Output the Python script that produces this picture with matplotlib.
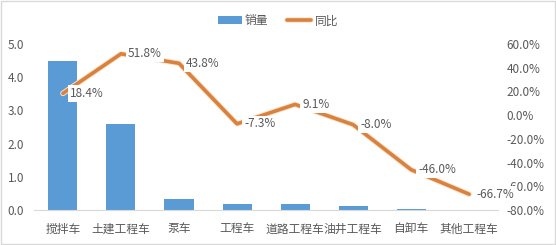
import matplotlib.pyplot as plt
import matplotlib.patheffects as pe
from matplotlib.ticker import FuncFormatter
import numpy as np

plt.rcParams['font.family'] = ['Noto Sans CJK SC', 'DejaVu Sans']

categories = ['搅拌车', '土建工程车', '泵车', '工程车', '道路工程车', '油井工程车', '自卸车', '其他工程车']
sales = [4.5, 2.6, 0.33, 0.18, 0.18, 0.13, 0.03, 0.01]
yoy = [18.4, 51.8, 43.8, -7.3, 9.1, -8.0, -46.0, -66.7]

bar_color = '#5B9BD5'
line_color = '#D9823F'
text_color = '#595959'
fs = 8.5

fig = plt.figure(figsize=(5.56, 2.45), dpi=100)
ax = fig.add_axes([0.061, 0.143, 0.835, 0.677])
ax2 = ax.twinx()

x = np.arange(len(categories))
bars = ax.bar(x, sales, width=0.5, color=bar_color, label='销量', zorder=2)
ax.set_xlim(-0.5, len(categories) - 0.5)
ax.set_ylim(0, 5)
ax.set_yticks(np.arange(0, 5.1, 1))
ax.yaxis.set_major_formatter(FuncFormatter(lambda v, p: f'{v:.1f}'))
ax.set_xticks(x)
ax.set_xticklabels(categories)

line, = ax2.plot(x, yoy, color=line_color, lw=2.6, label='同比', zorder=3,
                 solid_capstyle='round', solid_joinstyle='round',
                 path_effects=[pe.Stroke(linewidth=4.0, foreground='#F9E3CC'), pe.Normal()])
ax2.set_ylim(-80, 60)
ax2.set_yticks(np.arange(-80, 61, 20))
ax2.yaxis.set_major_formatter(FuncFormatter(lambda v, p: f'{v:.1f}%'))

for xi, v in zip(x, yoy):
    ax2.annotate(f'{v:.1f}%', (xi, v), xytext=(5, 0), textcoords='offset points',
                 ha='left', va='center', fontsize=fs, color=text_color,
                 bbox=dict(boxstyle='square,pad=0.15', fc='white', ec='none'),
                 zorder=4)

for a in (ax, ax2):
    for s in a.spines.values():
        s.set_visible(False)
    a.tick_params(length=0, labelsize=fs, colors=text_color)
ax.spines['bottom'].set_visible(True)
ax.spines['bottom'].set_color('#D9D9D9')
ax.tick_params(axis='x', pad=9)
ax.tick_params(axis='y', pad=7)
ax2.tick_params(axis='y', pad=6)

handles = [bars, line]
fig.legend(handles, ['销量', '同比'], loc='upper center', bbox_to_anchor=(0.5, 0.985),
           ncol=2, frameon=False, fontsize=fs, labelcolor=text_color,
           handlelength=2.0, handletextpad=0.3, columnspacing=1.6)

fig.patches.append(plt.Rectangle((0.002, 0.004), 0.996, 0.992, transform=fig.transFigure,
                                 fill=False, ec='#D9D9D9', lw=1))

fig.savefig('out.png', dpi=100)
